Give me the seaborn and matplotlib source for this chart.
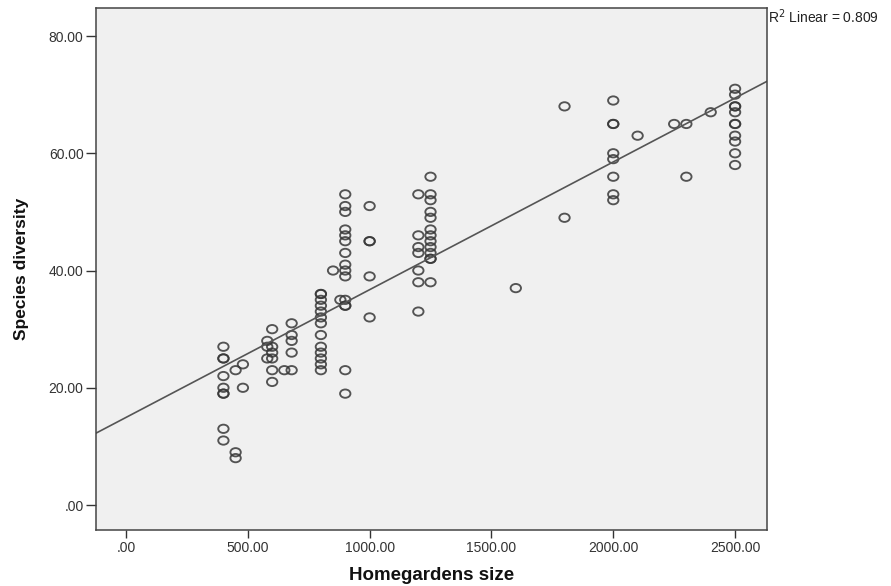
import numpy as np
import pandas as pd
import matplotlib
matplotlib.use("Agg")
import matplotlib.pyplot as plt
import seaborn as sns
from matplotlib.ticker import FuncFormatter, FixedLocator
from matplotlib.path import Path

# ---- data ----
size = (
    [400] * 9 + [450] * 3 + [480] * 2 + [580] * 3 + [600] * 6 + [650] + [680] * 5
    + [800] * 13 + [850] + [880] + [900] * 15 + [1000] * 5 + [1200] * 7 + [1250] * 13
    + [1600] + [1800] * 2 + [2000] * 8 + [2100] + [2250] + [2300] * 2 + [2400] + [2500] * 11
)
diversity = (
    [27, 25, 25, 22, 20, 19, 19, 13, 11]
    + [23, 9, 8]
    + [24, 20]
    + [28, 27, 25]
    + [30, 27, 26, 25, 23, 21]
    + [23]
    + [31, 29, 28, 26, 23]
    + [36, 36, 35, 34, 33, 32, 31, 29, 27, 26, 25, 24, 23]
    + [40]
    + [35]
    + [53, 51, 50, 47, 46, 45, 43, 41, 40, 39, 35, 34, 34, 23, 19]
    + [51, 45, 45, 39, 32]
    + [53, 46, 44, 43, 40, 38, 33]
    + [56, 53, 52, 50, 49, 47, 46, 45, 44, 43, 42, 42, 38]
    + [37]
    + [68, 49]
    + [69, 65, 65, 60, 59, 56, 53, 52]
    + [63]
    + [65]
    + [65, 56]
    + [67]
    + [71, 70, 68, 68, 67, 65, 65, 63, 62, 60, 58]
)
x_ticks = [0, 500, 1000, 1500, 2000, 2500]
y_ticks = [0, 20, 40, 60, 80]
x_label = "Homegardens size"
y_label = "Species diversity"
r2_label = "R$^2$ Linear = 0.809"

df = pd.DataFrame({x_label: size, y_label: diversity})

sns.set_theme(style="ticks")
plt.rcParams["font.family"] = ["Liberation Sans", "DejaVu Sans"]

W, H = 891, 586
L, R, T, B = 96, 767, 8, 530
fig = plt.figure(figsize=(W / 100, H / 100), dpi=100)
fig.patch.set_facecolor("white")
ax = fig.add_axes([L / W, (H - B) / H, (R - L) / W, (B - T) / H])
ax.set_facecolor("#f0f0f0")
ax.set_xlim(-123, 2631)
ax.set_ylim(-4.26, 84.78)

# slightly flattened open circle, as in the reference
circ = Path.unit_circle()
ellipse = Path(circ.vertices * np.array([1.0, 0.8]), circ.codes)

sns.regplot(
    data=df, x=x_label, y=y_label, ax=ax, ci=None, truncate=False, marker=ellipse,
    scatter_kws=dict(s=56, color="#383838", facecolors="none", linewidths=1.35, alpha=0.85),
    line_kws=dict(color="#555555", lw=1.2),
)

def fmt(v, pos):
    s = f"{v:.2f}"
    if s.startswith("0."):
        s = s[1:]
    return s

ax.xaxis.set_major_locator(FixedLocator(x_ticks))
ax.yaxis.set_major_locator(FixedLocator(y_ticks))
ax.xaxis.set_major_formatter(FuncFormatter(fmt))
ax.yaxis.set_major_formatter(FuncFormatter(fmt))
ax.tick_params(axis="both", direction="out", width=1, color="#333333",
               labelsize=10, labelcolor="#333333", pad=2)
ax.tick_params(axis="x", length=6)
ax.tick_params(axis="y", length=7)
for sp in ax.spines.values():
    sp.set_visible(True)
    sp.set_color("#444444")
    sp.set_linewidth(1.1)

ax.set_xlabel(x_label, fontsize=13.5, fontweight="bold", color="#111111")
ax.set_ylabel(y_label, fontsize=12.5, fontweight="bold", color="#111111")
ax.xaxis.set_label_coords(0.5, -(575 - B) / (B - T))
ax.xaxis.label.set_va("center")
ax.yaxis.set_label_coords(-(L - 22) / (R - L), 0.5)
ax.yaxis.label.set_va("center")

fig.text(768 / W, 1 - 17 / H, r2_label, fontsize=10, color="#222222", ha="left", va="center")

fig.savefig("out.png", dpi=100)
